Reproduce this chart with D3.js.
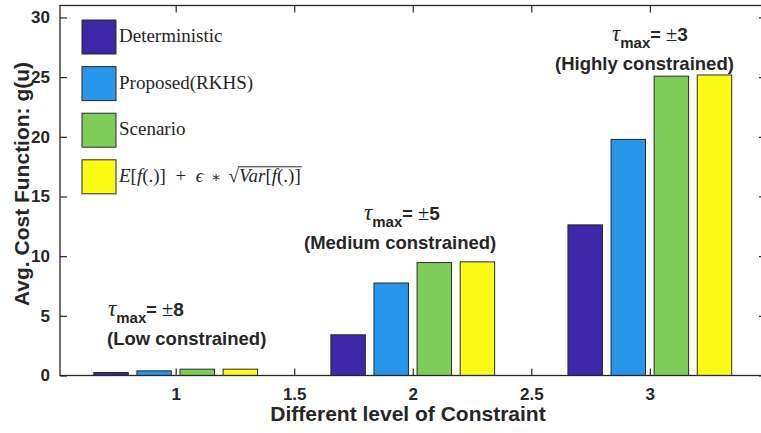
<!DOCTYPE html>
<html>
<head>
<meta charset="utf-8">
<script src="https://cdn.jsdelivr.net/npm/d3@7"></script>
<style>
  body { margin: 0; background: #fff; }
  svg { display: block; }
  .sans { font-family: 'Liberation Sans', Arial, sans-serif; font-weight: bold; fill: #262626; }
  .serif { font-family: 'Liberation Serif', 'Times New Roman', serif; fill: #262626; }
</style>
</head>
<body>
<svg width="761" height="433"></svg>
<script>
const categories = [1, 2, 3];
const seriesNames = ['Deterministic', 'Proposed(RKHS)', 'Scenario', 'Robust'];
const seriesColors = ['#3e26a8', '#2796eb', '#80cc59', '#f9fb15'];
const deterministic = [0.25, 3.41, 12.62];
const proposed = [0.39, 7.75, 19.78];
const scenario = [0.53, 9.46, 25.08];
const robust = [0.53, 9.52, 25.18];
const yTicks = [0, 5, 10, 15, 20, 25, 30];
const xTicks = [1, 1.5, 2, 2.5, 3];
const annotations = [
  { x: 1, tau: '8', line2: '(Low constrained)' },
  { x: 2, tau: '5', line2: '(Medium constrained)' },
  { x: 3, tau: '3', line2: '(Highly constrained)' }
];

const series = [deterministic, proposed, scenario, robust];

const plotLeft = 60, plotRight = 766, plotTop = 5.5, plotBottom = 375.5;
const axisColor = '#262626';

const svg = d3.select('svg');

const x = d3.scaleLinear().domain([0.512, 3.49]).range([plotLeft, plotRight]);
const y = d3.scaleLinear().domain([0, 31]).range([plotBottom, plotTop]);
const inner = d3.scaleBand()
  .domain(seriesNames)
  .range([-0.3636, 0.3636])
  .paddingInner(0.2)
  .paddingOuter(0.1);

// bars
const rows = [];
categories.forEach((c, ci) => {
  seriesNames.forEach((s, si) => {
    rows.push({ cat: c, name: s, value: series[si][ci], color: seriesColors[si] });
  });
});

svg.append('g')
  .selectAll('rect')
  .data(rows)
  .enter()
  .append('rect')
  .attr('x', d => x(d.cat + inner(d.name)))
  .attr('width', d => x(d.cat + inner(d.name) + inner.bandwidth()) - x(d.cat + inner(d.name)))
  .attr('y', d => y(d.value))
  .attr('height', d => y(0) - y(d.value))
  .attr('fill', d => d.color)
  .attr('stroke', '#2b2b2b')
  .attr('stroke-width', 1);

// axes (MATLAB style box, ticks pointing in)
const axisG = svg.append('g');

axisG.append('g')
  .attr('transform', `translate(0, ${plotBottom})`)
  .call(d3.axisBottom(x).tickValues(xTicks).tickSize(-7).tickPadding(12)
    .tickFormat(d3.format('')))
  .call(g => g.select('.domain').remove());

axisG.append('g')
  .attr('transform', `translate(${plotLeft}, 0)`)
  .call(d3.axisLeft(y).tickValues(yTicks).tickSize(-7).tickPadding(10))
  .call(g => g.select('.domain').remove());

axisG.append('g')
  .attr('transform', `translate(0, ${plotTop})`)
  .call(d3.axisTop(x).tickValues(xTicks).tickSize(-7).tickFormat(''))
  .call(g => g.select('.domain').remove());

axisG.append('g')
  .attr('transform', `translate(${plotRight}, 0)`)
  .call(d3.axisRight(y).tickValues(yTicks).tickSize(-7).tickFormat(''))
  .call(g => g.select('.domain').remove());

axisG.selectAll('.tick line').attr('stroke', axisColor).attr('stroke-width', 1.2);
axisG.selectAll('.tick text')
  .attr('class', 'sans')
  .style('font-size', '17px')
  .attr('fill', axisColor);

axisG.append('rect')
  .attr('x', plotLeft).attr('y', plotTop)
  .attr('width', plotRight - plotLeft).attr('height', plotBottom - plotTop)
  .attr('fill', 'none')
  .attr('stroke', axisColor)
  .attr('stroke-width', 1.3);

// axis labels
svg.append('text')
  .attr('class', 'sans')
  .attr('x', 408)
  .attr('y', 421)
  .attr('text-anchor', 'middle')
  .style('font-size', '21px')
  .text('Different level of Constraint');

svg.append('text')
  .attr('class', 'sans')
  .attr('transform', `translate(29, 184) rotate(-90)`)
  .attr('text-anchor', 'middle')
  .style('font-size', '21px')
  .text('Avg. Cost Function: g(u)');

// legend
const legend = svg.append('g');
seriesNames.forEach((s, i) => {
  const ly = 20 + i * 46.6;
  legend.append('rect')
    .attr('x', 82).attr('y', ly)
    .attr('width', 34).attr('height', 34)
    .attr('fill', seriesColors[i])
    .attr('stroke', '#2b2b2b')
    .attr('stroke-width', 1);
  if (i < 3) {
    legend.append('text')
      .attr('class', 'serif')
      .attr('x', 119).attr('y', ly + 22)
      .style('font-size', '19px')
      .text(s);
  }
});

// math label for the fourth series: E[f(.)] + eps * sqrt(Var[f(.)])
const mathY = 20 + 3 * 46.6 + 22;
const math = legend.append('text')
  .attr('class', 'serif')
  .attr('x', 119).attr('y', mathY)
  .style('font-size', '19px');
const part = (t, it) => math.append('tspan').attr('font-style', it ? 'italic' : 'normal').text(t);
part('E', true); part('[', false); part('f', true); part('(.)]\u2002+\u2002', false);
part('ϵ', true);
math.append('tspan').attr('font-family', 'DejaVu Serif').style('font-size', '15px').text('\u2002∗\u2002');
part('√', false);
part('Var', true);
part('[', false); part('f', true); part('(.)]', false);

const mathNode = math.node();
const nChars = mathNode.getNumberOfChars();
const rootIdx = 'E[f(.)]\u2002+\u2002ϵ\u2002∗\u2002'.length;
const overStart = mathNode.getEndPositionOfChar(rootIdx).x;
const overEnd = mathNode.getEndPositionOfChar(nChars - 1).x;
legend.append('line')
  .attr('x1', overStart - 1).attr('x2', overEnd + 1)
  .attr('y1', mathY - 15).attr('y2', mathY - 15)
  .attr('stroke', '#262626')
  .attr('stroke-width', 1);

// annotations
const annY = [316, 220, 41];
const annX = [108, 364, 612];
const line2X = [107, 304, 555];
annotations.forEach((a, i) => {
  const t = svg.append('text').attr('x', annX[i]).attr('y', annY[i]);
  t.append('tspan')
    .attr('class', 'serif').attr('font-style', 'italic')
    .style('font-size', '23px').text('τ');
  t.append('tspan')
    .attr('class', 'sans').attr('dy', 7)
    .style('font-size', '15px').text('max');
  t.append('tspan')
    .attr('class', 'sans').attr('dy', -7)
    .style('font-size', '18px').text('= ');
  t.append('tspan')
    .attr('class', 'serif')
    .style('font-size', '21px').text('±');
  t.append('tspan')
    .attr('class', 'sans')
    .style('font-size', '19px').text(a.tau);

  svg.append('text')
    .attr('class', 'sans')
    .attr('x', line2X[i]).attr('y', annY[i] + 29)
    .style('font-size', '18.5px')
    .text(a.line2);
});
</script>
</body>
</html>
